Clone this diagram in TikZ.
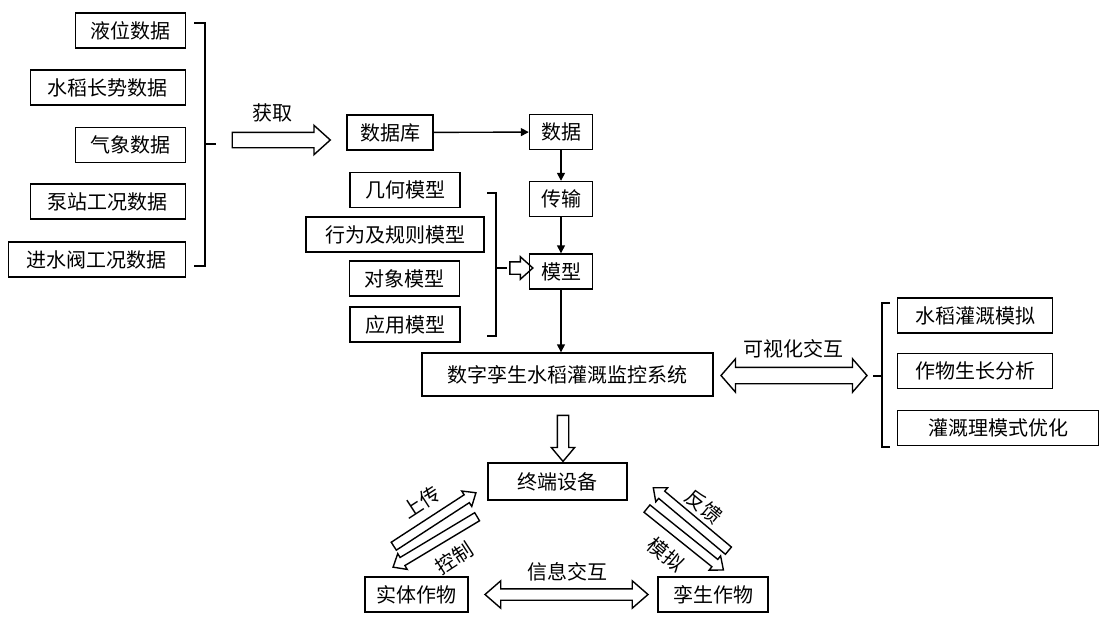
\documentclass[tikz,border=0pt]{standalone}
\usepackage{fontspec}
\newfontfamily\cjk{Noto Sans CJK SC}
\usetikzlibrary{arrows.meta,shapes.arrows}
\tikzset{
	box/.style={draw, line width=1.4pt, minimum height=35, inner sep=0pt, font=\cjk\fontsize{20}{20}\selectfont},
	lbl/.style={inner sep=0pt, font=\cjk\fontsize{20}{20}\selectfont},
	link/.style={line width=1.4pt, -{Triangle[length=8pt,width=8pt]}},
	brk/.style={line width=1.4pt},
	hollow/.style={draw, line width=1.4pt, single arrow, inner xsep=0pt, sloped, allow upside down, midway},
	twohollow/.style={draw, line width=1.4pt, double arrow, inner xsep=0pt, sloped, allow upside down, midway}
}
\begin{document}
\begin{tikzpicture}[x=1pt, y=-1pt]
	\useasboundingbox (0,0) rectangle (1101,621);

	\foreach \n/\t/\w/\y in {liquid/液位数据/110/30.5, growth/水稻长势数据/155/87.5, weather/气象数据/110/145, pump/泵站工况数据/155/201.5, valve/进水阀工况数据/177/259.5}
	{
		\node[box, minimum width=\w, anchor=east] (\n) at (186,\y) {\t};
	}
	\draw[brk] (194,23) -| (205,266) -- (194,266);
	\draw[brk] (205,144) -- (216,144);

	\coordinate (getA) at (228,140);
	\coordinate (getB) at (326,140);
	\path (getA) -- (getB) node[hollow, inner ysep=7, minimum height=98, minimum width=28, single arrow head extend=7, single arrow tip angle=84] (get) {};
	\node[lbl] (getlbl) at (272,113) {获取};

	\node[box, minimum width=86] (db) at (390,132.5) {数据库};
	\node[box, minimum width=63] (data) at (561,132) {数据};
	\node[box, minimum width=63] (trans) at (561,199) {传输};
	\node[box, minimum width=63] (model) at (561,271.5) {模型};
	\draw[link] (db) -- (data);
	\draw[link] (data) -- (trans);
	\draw[link] (trans) -- (model);

	\foreach \n/\t/\w/\x/\y in {geo/几何模型/110/405/190, rule/行为及规则模型/178/395/234.5, obj/对象模型/110/404.5/278.5, app/应用模型/110/405/324.5}
	{
		\node[box, minimum width=\w] (\n) at (\x,\y) {\t};
	}
	\draw[brk] (487,193) -| (496,336) -- (487,336);
	\draw[brk] (496,268) -- (507,268);
	\coordinate (mdlA) at (507,268);
	\path (mdlA) -- (mdlA -| model.west) node[hollow, inner ysep=5.5, minimum height=23, minimum width=21, single arrow head extend=5, single arrow tip angle=84] (mdlarrow) {};

	\node[box, minimum width=291, minimum height=43] (sys) at (567.5,374.5) {数字孪生水稻灌溉监控系统};
	\draw[link] (model.south) -- (model.south |- sys.north);

	\coordinate (visA) at (721,375.5);
	\coordinate (visB) at (867,375.5);
	\path (visA) -- (visB) node[twohollow, inner ysep=7.5, minimum height=146, minimum width=32, double arrow head extend=8.5, double arrow tip angle=98] (vis) {};
	\node[lbl] (vislbl) at (793,349) {可视化交互};

	\draw[brk] (890,303) -| (882,447) -- (890,447);
	\draw[brk] (882,376) -- (873,376);
	\foreach \n/\t/\w/\y in {irr/水稻灌溉模拟/155/315.5, crop/作物生长分析/155/371, opt/灌溉理模式优化/201/428}
	{
		\node[box, minimum width=\w, anchor=west] (\n) at (897,\y) {\t};
	}

	\coordinate (downA) at (563,412);
	\coordinate (downB) at (563,458);
	\path (downA) -- (downB) node[hollow, inner ysep=5, minimum height=46, minimum width=22, single arrow head extend=6, single arrow tip angle=80] (down) {};

	\node[box, minimum width=139, minimum height=37] (term) at (557.5,481.5) {终端设备};
	\node[box, minimum width=103] (real) at (416.5,594.5) {实体作物};
	\node[box, minimum width=110] (twin) at (713,594.5) {孪生作物};

	\path (real.east) ++(17,0) coordinate (infoA) -- (twin.west) ++(-10,0) coordinate (infoB);
	\path (infoA) -- (infoB) node[twohollow, inner ysep=5, minimum height=163, minimum width=26, double arrow head extend=8, double arrow tip angle=82] (info) {};
	\node[lbl] (infolbl) at (567,572) {信息交互};

	\foreach \n/\a/\b in {up/{391,548}/{474,494}, ctl/{480,515}/{395,566}, fb/{730,552}/{656,490}, sim/{645,507}/{721,568}}
	{
		\coordinate (\n A) at (\a);
		\coordinate (\n B) at (\b);
		\path (\n A) -- (\n B) node[hollow, inner ysep=4, minimum height=98, minimum width=17, single arrow head extend=4.5, single arrow tip angle=80] (\n) {};
	}
	\node[lbl, rotate=33] (uplbl) at (421,502) {上传};
	\node[lbl, rotate=33] (ctllbl) at (454,558) {控制};
	\node[lbl, rotate=-40] (fblbl) at (704,507) {反馈};
	\node[lbl, rotate=-40] (simlbl) at (666,555) {模拟};
\end{tikzpicture}
\end{document}
